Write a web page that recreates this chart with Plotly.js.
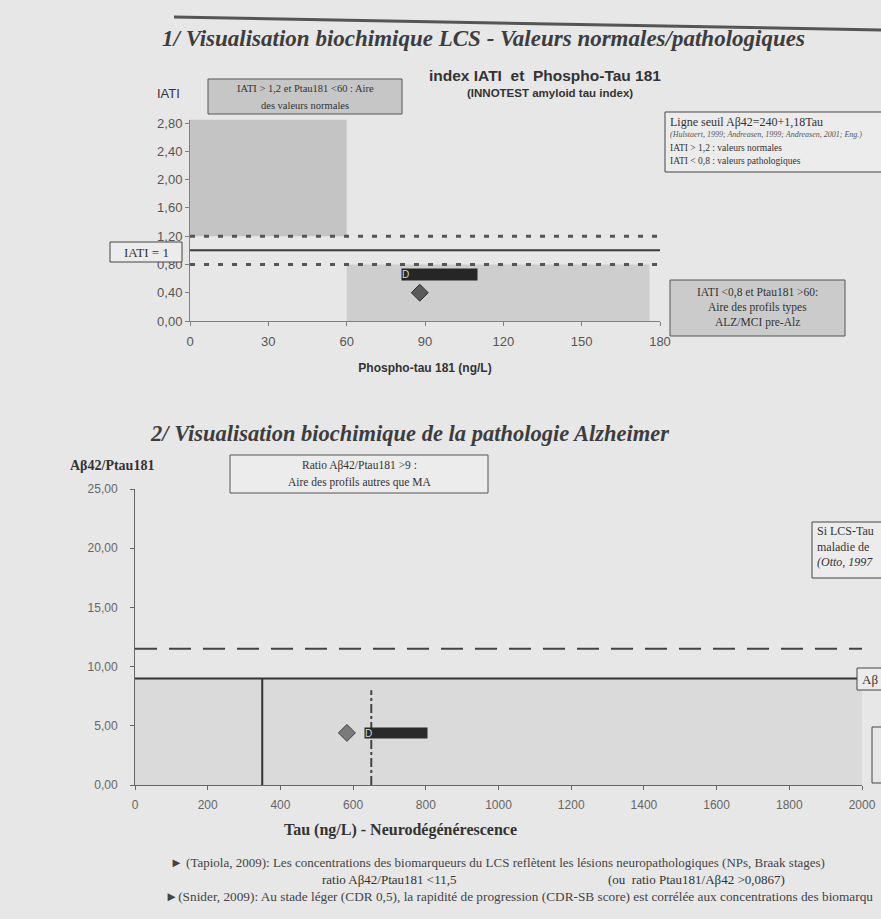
<!DOCTYPE html>
<html><head><meta charset="utf-8">
<script src="https://cdn.plot.ly/plotly-3.0.1.min.js"></script>
<style>html,body{margin:0;padding:0;background:#e7e7e7;overflow:hidden}</style>
</head><body><div id="chart" style="width:881px;height:919px"></div>
<script>
// ---------- Chart 1 : IATI vs Phospho-tau 181 ----------
const ptauTicks = [0, 30, 60, 90, 120, 150, 180];
const iatiTicks = [0, 0.4, 0.8, 1.2, 1.6, 2.0, 2.4, 2.8];
const ptauPatient = [88];
const iatiPatient = [0.40];
const iatiNormalMin = 1.2;
const iatiPathMax = 0.8;
const iatiMid = 1.0;
const normalZoneX = [0, 60];
const normalZoneY = [1.2, 2.85];
const alzZoneX = [60, 176];
const alzZoneY = [0, 0.8];

// ---------- Chart 2 : Ab42/Ptau181 vs Tau ----------
const tauTicks = [0, 200, 400, 600, 800, 1000, 1200, 1400, 1600, 1800, 2000];
const ratioTicks = [0, 5, 10, 15, 20, 25];
const tauPatient = [583];
const ratioPatient = [4.4];
const ratioCutMA = 9;
const ratioCutTapiola = 11.5;
const tauCut1 = 350;
const tauCut2 = 650;
const tauCut2Top = 8;

const W = 881, H = 919;
const X = p => p / W, Y = p => 1 - p / H;
const SERIF = '"Liberation Serif", "DejaVu Serif", serif';
const SANS = '"Liberation Sans", Arial, sans-serif';

function note(xp, yp, text, o) {
  return Object.assign({xref:'paper', yref:'paper', x:X(xp), y:Y(yp), text:text, showarrow:false,
    xanchor:'center', yanchor:'middle', font:{family:SERIF, size:11, color:'#333'}}, o || {});
}
function box(x0, y0, x1, y1, fill, lc) {
  return {type:'rect', xref:'paper', yref:'paper', x0:X(x0), x1:X(x1), y0:Y(y0), y1:Y(y1),
    fillcolor: fill || 'rgba(0,0,0,0)', line:{color: lc || '#444', width:1}, layer:'above'};
}

const traces = [
  {type:'scatter', mode:'markers', x:ptauPatient, y:iatiPatient, xaxis:'x', yaxis:'y',
   marker:{symbol:'diamond', size:13, color:'#5a5a5a', line:{color:'#2e2e2e', width:1}}, hoverinfo:'skip'},
  {type:'scatter', mode:'markers', x:tauPatient, y:ratioPatient, xaxis:'x2', yaxis:'y2',
   marker:{symbol:'diamond', size:13, color:'#7a7a7a', line:{color:'#3a3a3a', width:1}}, hoverinfo:'skip'}
];

const axBase = {showline:true, linecolor:'#808080', linewidth:1, ticks:'outside', ticklen:4, tickcolor:'#808080',
  showgrid:false, zeroline:false, fixedrange:true, tickfont:{family:SANS, size:13, color:'#555'}};

const shapes = [
  // heading rule
  {type:'line', xref:'paper', yref:'paper', x0:X(174), y0:Y(17), x1:X(881), y1:Y(30), line:{color:'#555', width:3}},
  // chart 1 zones & thresholds
  {type:'rect', xref:'x', yref:'y', x0:normalZoneX[0], x1:normalZoneX[1], y0:normalZoneY[0], y1:normalZoneY[1],
   fillcolor:'#c4c4c4', line:{width:0}, layer:'below'},
  {type:'rect', xref:'x', yref:'y', x0:alzZoneX[0], x1:alzZoneX[1], y0:alzZoneY[0], y1:alzZoneY[1],
   fillcolor:'#cecece', line:{width:0}, layer:'below'},
  {type:'line', xref:'x', yref:'y', x0:0, x1:180, y0:iatiNormalMin, y1:iatiNormalMin, line:{color:'#555', width:3, dash:'5px,9px'}},
  {type:'line', xref:'x', yref:'y', x0:0, x1:180, y0:iatiPathMax, y1:iatiPathMax, line:{color:'#555', width:3, dash:'5px,9px'}},
  {type:'line', xref:'x', yref:'y', x0:0, x1:180, y0:iatiMid, y1:iatiMid, line:{color:'#3a3a3a', width:2}},
  // chart 2 zones & thresholds
  {type:'rect', xref:'x2', yref:'y2', x0:0, x1:2000, y0:0, y1:ratioCutMA, fillcolor:'#dadada', line:{width:0}, layer:'below'},
  {type:'line', xref:'x2', yref:'y2', x0:0, x1:2000, y0:ratioCutMA, y1:ratioCutMA, line:{color:'#333', width:2}},
  {type:'line', xref:'x2', yref:'y2', x0:0, x1:2000, y0:ratioCutTapiola, y1:ratioCutTapiola, line:{color:'#444', width:2, dash:'22px,12px'}},
  {type:'line', xref:'x2', yref:'y2', x0:tauCut1, x1:tauCut1, y0:0, y1:ratioCutMA, line:{color:'#333', width:2}},
  {type:'line', xref:'x2', yref:'y2', x0:tauCut2, x1:tauCut2, y0:0, y1:tauCut2Top, line:{color:'#444', width:2, dash:'dashdot'}},
  // text boxes
  box(208, 79, 402, 114, '#c6c6c6', '#555'),
  box(665, 112, 900, 172, '#ececec', '#444'),
  box(110, 242, 182, 262, '#ececec', '#444'),
  box(670, 280, 845, 336, '#cbcbcb', '#555'),
  box(230, 455, 488, 493, '#ececec', '#555'),
  box(812, 522, 900, 578, '#ececec', '#444'),
  box(857, 668, 900, 690, '#ececec', '#444'),
  box(872, 727, 900, 783, 'rgba(0,0,0,0)', '#444')
];

const annotations = [
  note(160, 38, '<b><i>1/ Visualisation biochimique LCS - Valeurs normales/pathologiques</i></b>',
       {xanchor:'left', font:{family:SERIF, size:23, color:'#3d3d3d'}}),
  note(545, 75, '<b>index IATI&nbsp; et&nbsp; Phospho-Tau 181</b>', {font:{family:SANS, size:15.5, color:'#333'}}),
  note(550, 93, '<b>(INNOTEST amyloid tau index)</b>', {font:{family:SANS, size:11.5, color:'#333'}}),
  note(168, 94, 'IATI', {font:{family:SANS, size:13, color:'#333'}}),
  note(305, 89, 'IATI > 1,2 et Ptau181 <60 : Aire', {font:{family:SERIF, size:10.5, color:'#333'}}),
  note(305, 105, 'des valeurs normales', {font:{family:SERIF, size:10.5, color:'#333'}}),
  note(668, 122, 'Ligne seuil Aβ42=240+1,18Tau', {xanchor:'left', font:{family:SERIF, size:12, color:'#333'}}),
  note(668, 135, '<i>(Hulstaert, 1999; Andreasen, 1999; Andreasen, 2001; Eng.)</i>', {xanchor:'left', font:{family:SERIF, size:8, color:'#555'}}),
  note(668, 148, 'IATI > 1,2 : valeurs normales', {xanchor:'left', font:{family:SERIF, size:9.5, color:'#333'}}),
  note(668, 161, 'IATI < 0,8 : valeurs pathologiques', {xanchor:'left', font:{family:SERIF, size:9.5, color:'#333'}}),
  note(146, 252, 'IATI = 1', {font:{family:SERIF, size:13, color:'#333'}}),
  note(757, 292, 'IATI <0,8 et Ptau181 >60:', {font:{family:SERIF, size:11.5, color:'#333'}}),
  note(757, 307, 'Aire des profils types', {font:{family:SERIF, size:11.5, color:'#333'}}),
  note(757, 322, 'ALZ/MCI pre-Alz', {font:{family:SERIF, size:11.5, color:'#333'}}),
  // patient label (chart 1)
  {xref:'x', yref:'y', x:ptauPatient[0], y:iatiPatient[0], xshift:20, yshift:18, showarrow:false,
   text:'<span style="color:#d8d8d8">D</span>', align:'left', width:75, height:11, bgcolor:'#262626', borderpad:0,
   font:{family:SANS, size:10, color:'#ddd'}},
  // chart 2
  note(148, 433, '<b><i>2/ Visualisation biochimique de la pathologie Alzheimer</i></b>',
       {xanchor:'left', font:{family:SERIF, size:22.5, color:'#3d3d3d'}}),
  note(68, 466, '<b>Aβ42/Ptau181</b>', {xanchor:'left', font:{family:SERIF, size:14, color:'#333'}}),
  note(359, 466, 'Ratio Aβ42/Ptau181 >9 :', {font:{family:SERIF, size:11.5, color:'#333'}}),
  note(359, 482, 'Aire des profils autres que MA', {font:{family:SERIF, size:11.5, color:'#333'}}),
  note(815, 531, 'Si LCS-Tau', {xanchor:'left', font:{family:SERIF, size:12, color:'#333'}}),
  note(815, 547, 'maladie de', {xanchor:'left', font:{family:SERIF, size:12, color:'#333'}}),
  note(815, 562, '<i>(Otto, 1997</i>', {xanchor:'left', font:{family:SERIF, size:12, color:'#333'}}),
  note(860, 679, 'Aβ', {xanchor:'left', font:{family:SERIF, size:13, color:'#333'}}),
  {xref:'x2', yref:'y2', x:tauPatient[0], y:ratioPatient[0], xshift:49, yshift:0, showarrow:false,
   text:'<span style="color:#d8d8d8">D</span>', align:'left', width:62, height:10, bgcolor:'#2a2a2a', borderpad:0,
   font:{family:SANS, size:10, color:'#ddd'}},
  note(400, 830, '<b>Tau (ng/L) - Neurodégénérescence</b>', {font:{family:SERIF, size:16, color:'#333'}}),
  note(168, 862, '► (Tapiola, 2009): Les concentrations des biomarqueurs du LCS reflètent les lésions neuropathologiques (NPs, Braak stages)',
       {xanchor:'left', font:{family:SERIF, size:13, color:'#444'}}),
  note(320, 879, 'ratio Aβ42/Ptau181 <11,5', {xanchor:'left', font:{family:SERIF, size:13, color:'#333'}}),
  note(606, 879, '(ou&nbsp; ratio Ptau181/Aβ42 >0,0867)', {xanchor:'left', font:{family:SERIF, size:13, color:'#333'}}),
  note(163, 896, '►(Snider, 2009): Au stade léger (CDR 0,5), la rapidité de progression (CDR-SB score) est corrélée aux concentrations des biomarqu',
       {xanchor:'left', font:{family:SERIF, size:13.3, color:'#444'}})
];

const layout = {
  width: W, height: H, margin:{l:0, r:0, t:0, b:0},
  paper_bgcolor:'#e7e7e7', plot_bgcolor:'rgba(0,0,0,0)', showlegend:false,
  separators:', ',
  xaxis: Object.assign({}, axBase, {domain:[X(190), X(660)], range:[0,180], tickvals:ptauTicks, anchor:'y',
    ticklabelstandoff:4,
    title:{text:'<b>Phospho-tau 181 (ng/L)</b>', font:{family:SANS, size:12, color:'#333'}, standoff:16}}),
  yaxis: Object.assign({}, axBase, {domain:[Y(321), Y(119.5)], range:[0,2.85], tickvals:iatiTicks, tickformat:'.2f', anchor:'x'}),
  xaxis2: Object.assign({}, axBase, {domain:[X(135), X(862)], range:[0,2000], tickvals:tauTicks, tickformat:'d', anchor:'y2',
    ticklabelstandoff:5, linecolor:'#666', tickcolor:'#666', tickfont:{family:SANS, size:12, color:'#666'}}),
  yaxis2: Object.assign({}, axBase, {domain:[Y(785), Y(489)], range:[0,25], tickvals:ratioTicks, tickformat:'.2f', anchor:'x2',
    ticklabelstandoff:10, linecolor:'#666', tickcolor:'#666', tickfont:{family:SANS, size:12, color:'#666'}}),
  shapes: shapes,
  annotations: annotations
};

Plotly.newPlot('chart', traces, layout, {staticPlot:true, displayModeBar:false});
</script></body></html>
